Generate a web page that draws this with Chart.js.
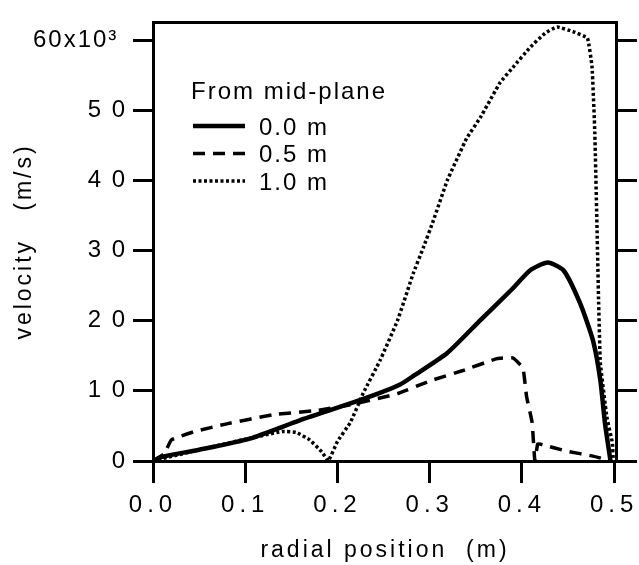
<!DOCTYPE html>
<html>
<head>
<meta charset="utf-8">
<title>velocity vs radial position</title>
<script src="https://cdn.jsdelivr.net/npm/chart.js@4.4.1/dist/chart.umd.min.js"></script>
<style>
  html, body { margin: 0; padding: 0; background: #fff; }
  canvas { display: block; }
</style>
</head>
<body>
<canvas id="velocityChart" width="639" height="565"></canvas>
<script>
// Velocity profiles (velocity in 10^3 m/s)
const legendTitle = 'From mid-plane';
const seriesLabels = ['0.0 m', '0.5 m', '1.0 m'];

// 0.0 m from mid-plane (solid)
const radius00 = [0, 0.01, 0.05, 0.105, 0.159, 0.214, 0.246, 0.268, 0.282, 0.319, 0.355, 0.39, 0.409, 0.428, 0.445, 0.463, 0.477, 0.485, 0.49, 0.496];
const velocity00 = [0, 0.6, 1.6, 3.2, 5.8, 8.2, 9.7, 10.9, 12.1, 15.4, 20.1, 24.6, 27.2, 28.3, 27.2, 22.5, 17.2, 11.5, 5.4, 0];

// 0.5 m from mid-plane (dashed)
const radius05 = [0, 0.012, 0.02, 0.045, 0.08, 0.13, 0.178, 0.214, 0.265, 0.30, 0.336, 0.373, 0.39, 0.401, 0.405, 0.411, 0.414, 0.417, 0.42, 0.449, 0.477, 0.497];
const velocity05 = [0, 1.0, 3.0, 4.2, 5.3, 6.6, 7.2, 8.0, 9.6, 11.4, 12.9, 14.6, 14.7, 13.3, 9.2, 5.5, 0, 2.4, 2.4, 1.4, 0.7, 0];

// 1.0 m from mid-plane (dotted)
const radius10 = [0, 0.05, 0.1, 0.14, 0.155, 0.17, 0.183, 0.19, 0.2, 0.214, 0.228, 0.246, 0.265, 0.282, 0.293, 0.304, 0.319, 0.34, 0.355, 0.376, 0.39, 0.409, 0.425, 0.438, 0.456, 0.471, 0.476, 0.479, 0.4815, 0.483, 0.485, 0.492, 0.498, 0.499];
const velocity10 = [0, 1.6, 3.1, 4.2, 4.1, 3.0, 1.3, 0, 2.8, 5.5, 9.7, 14.3, 20.0, 26.7, 30.4, 34.3, 40.0, 46.0, 49.0, 53.9, 56.1, 59.0, 61.0, 61.9, 61.2, 60.3, 56.2, 46.8, 32.5, 23.4, 14.0, 6.3, 2.6, 0];

const xTickValues = [0, 0.1, 0.2, 0.3, 0.4, 0.5];
const xTickLabels = ['0.0', '0.1', '0.2', '0.3', '0.4', '0.5'];
const yTickValues = [0, 10, 20, 30, 40, 50, 60];
const yTickLabels = ['0', '1 0', '2 0', '3 0', '4 0', '5 0', '60x10\u00b3 '];

const fontFamily = '"Liberation Sans", Arial, sans-serif';

function toPoints(xs, ys) {
    return xs.map((x, i) => ({ x: x, y: ys[i] }));
}

function setTicks(values) {
    return function (scale) {
        scale.ticks = values.map(v => ({ value: v }));
    };
}

// Canvas letter spacing for one scale's labels and title
function spaceOut(scale, fnName, px) {
    const orig = scale[fnName];
    scale[fnName] = function () {
        const ctx = this.ctx;
        const prev = ctx.letterSpacing;
        ctx.letterSpacing = px + 'px';
        orig.apply(this, arguments);
        ctx.letterSpacing = prev;
    };
}

const letterSpacingPlugin = {
    id: 'letterSpacing',
    afterLayout(chart) {
        const x = chart.scales.x;
        const y = chart.scales.y;
        if (!x._spaced) {
            spaceOut(x, 'drawLabels', 5);
            spaceOut(x, 'drawTitle', 3);
            x._spaced = true;
        }
        if (!y._spaced) {
            spaceOut(y, 'drawLabels', 2);
            spaceOut(y, 'drawTitle', 3);
            y._spaced = true;
        }
    }
};

// Legend drawn inside the plot, top left
const insideLegend = {
    id: 'insideLegend',
    afterDraw(chart) {
        const { ctx, chartArea } = chart;
        const left = chartArea.left + 40;
        ctx.save();
        ctx.fillStyle = '#000';
        ctx.font = '24px ' + fontFamily;
        ctx.letterSpacing = '2px';
        ctx.textBaseline = 'middle';
        ctx.fillText(legendTitle, left - 2, chartArea.top + 70);
        chart.data.datasets.forEach((ds, i) => {
            const y = chartArea.top + 104 + i * 27.5;
            ctx.beginPath();
            ctx.setLineDash(ds.borderDash || []);
            ctx.lineWidth = ds.borderWidth;
            ctx.strokeStyle = ds.borderColor;
            ctx.moveTo(left, y);
            ctx.lineTo(left + 52, y);
            ctx.stroke();
            ctx.fillText(ds.label, left + 66, y + 2);
        });
        ctx.restore();
    }
};

const axisGrid = {
    display: true,
    drawOnChartArea: false,
    drawTicks: true,
    color: '#000',
    lineWidth: 3
};

const tickFont = { family: fontFamily, size: 24 };
const titleFont = { family: fontFamily, size: 23 };

const ctx = document.getElementById('velocityChart').getContext('2d');
new Chart(ctx, {
    type: 'line',
    data: {
        datasets: [
            {
                label: seriesLabels[0],
                data: toPoints(radius00, velocity00),
                borderColor: '#000',
                borderWidth: 4.5,
                pointRadius: 0,
                tension: 0.2
            },
            {
                label: seriesLabels[1],
                data: toPoints(radius05, velocity05),
                borderColor: '#000',
                borderWidth: 3.5,
                borderDash: [12, 8],
                pointRadius: 0,
                tension: 0.1
            },
            {
                label: seriesLabels[2],
                data: toPoints(radius10, velocity10),
                borderColor: '#000',
                borderWidth: 3.5,
                borderDash: [3, 2.5],
                pointRadius: 0,
                tension: 0.1
            }
        ]
    },
    options: {
        responsive: false,
        animation: false,
        layout: { padding: 0 },
        plugins: {
            legend: { display: false },
            tooltip: { enabled: false }
        },
        scales: {
            x: {
                type: 'linear',
                position: 'bottom',
                min: 0,
                max: 0.503,
                afterBuildTicks: setTicks(xTickValues),
                afterFit(scale) { scale.height = 104; },
                grid: { ...axisGrid, tickLength: 22 },
                border: { display: true, color: '#000', width: 3 },
                ticks: {
                    color: '#000',
                    padding: 8,
                    maxRotation: 0,
                    font: tickFont,
                    callback: (value) => xTickLabels[xTickValues.indexOf(value)]
                },
                title: {
                    display: true,
                    text: 'radial position  (m)',
                    color: '#000',
                    padding: 1,
                    font: titleFont
                }
            },
            xTop: {
                type: 'linear',
                position: 'top',
                min: 0,
                max: 0.503,
                afterFit(scale) { scale.height = 22; },
                grid: { display: true, drawOnChartArea: false, drawTicks: false },
                border: { display: true, color: '#000', width: 3 },
                ticks: { display: false }
            },
            y: {
                type: 'linear',
                position: 'left',
                min: 0,
                max: 62.6,
                afterBuildTicks: setTicks(yTickValues),
                afterFit(scale) { scale.width = 153; },
                grid: { ...axisGrid, tickLength: 20 },
                border: { display: true, color: '#000', width: 3 },
                ticks: {
                    color: '#000',
                    padding: 6,
                    font: tickFont,
                    callback: (value) => yTickLabels[yTickValues.indexOf(value)]
                },
                title: {
                    display: true,
                    text: 'velocity   (m/s)',
                    color: '#000',
                    padding: 11,
                    font: titleFont
                }
            },
            yRight: {
                type: 'linear',
                position: 'right',
                min: 0,
                max: 62.6,
                afterBuildTicks: setTicks(yTickValues),
                afterFit(scale) { scale.width = 22; },
                grid: { ...axisGrid, tickLength: 20 },
                border: { display: true, color: '#000', width: 3 },
                ticks: { display: false }
            }
        }
    },
    plugins: [letterSpacingPlugin, insideLegend]
});
</script>
</body>
</html>
